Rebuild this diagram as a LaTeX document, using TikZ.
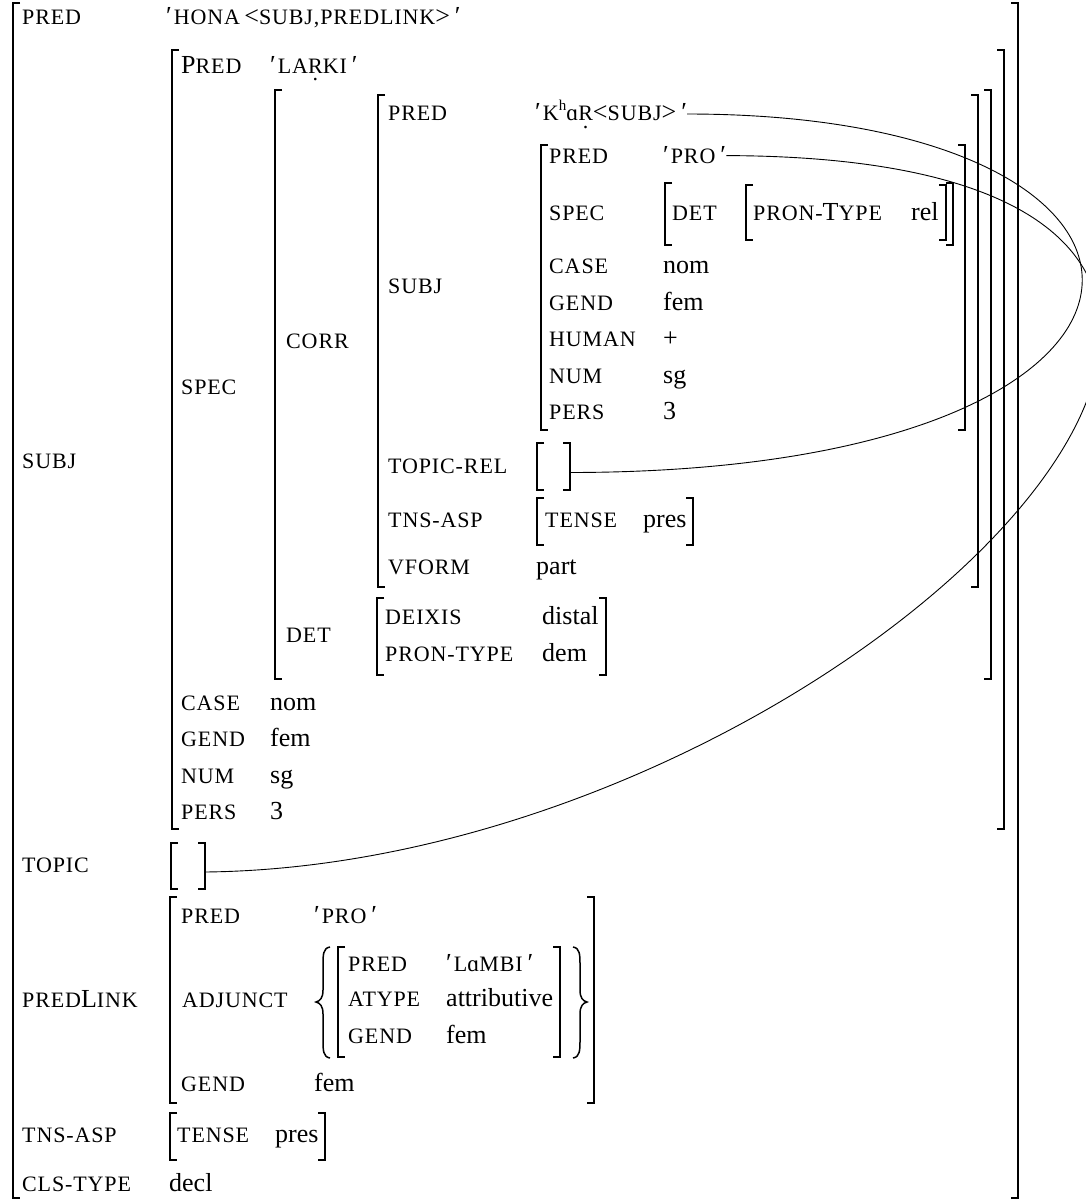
\documentclass[tikz,border=0pt]{standalone}
\usepackage{fontspec}
\setmainfont{Liberation Serif}
\newfontfamily\scf[LetterSpace=4]{Liberation Serif}
\newcommand\lb[1]{{\scf\fontsize{22}{24}\selectfont #1}}
\newcommand\bigc[1]{{\scf\fontsize{26}{28}\selectfont #1}}
\newcommand\udot[1]{\ooalign{#1\cr\hidewidth\raisebox{-0.32em}{.}\hidewidth\cr}}
\newcommand\pro{′\hspace{2pt}}
\newcommand\prc{\hspace{5pt}′}
\newcommand\alf{{\fontsize{23}{23}\selectfont ɑ}}
\newcommand\avm[4]{%
 \draw[brk] (#1+7,#2) -- (#1,#2) -- (#1,#4) -- (#1+7,#4);
 \draw[brk] (#3-7,#2) -- (#3,#2) -- (#3,#4) -- (#3-7,#4);}
\begin{document}
\begin{tikzpicture}[x=1pt,y=-1pt,
 lab/.style={anchor=base west,inner sep=0pt,font=\scf\fontsize{22}{24}\selectfont},
 val/.style={anchor=base west,inner sep=0pt,font=\fontsize{26}{28}\selectfont},
 brk/.style={line width=1.3pt},
 link/.style={line width=0.9pt},
 emptybox/.style={inner sep=0pt,minimum width=34pt,minimum height=46pt}]
\useasboundingbox (0,0) rectangle (1085,1201);

% ---------- outer f-structure
\avm{13}{3}{1018}{1198}
\node[lab] (aPred) at (22,25) {PRED};
\node[val] (aPredV) at (166,25) {\pro\lb{HONA}\,<\lb{SUBJ,PREDLINK}>\prc};
\node[lab] (aSubj) at (22,468.5) {SUBJ};
\node[lab] (aTopic) at (22,872) {TOPIC};
\node[emptybox] (aTopicV) at (188,866) {};
\avm{171}{843}{205}{889}
\node[lab] (aPlink) at (22,1007.5) {PRED\bigc{L}INK};
\node[lab] (aTns) at (22,1142.5) {TNS-ASP};
\avm{170}{1113}{325}{1160}
\node[lab] (aTense) at (177,1142.5) {TENSE};
\node[val] (aPres) at (275,1142.5) {pres};
\node[lab] (aCls) at (22,1191.5) {CLS-TYPE};
\node[val] (aDecl) at (169,1191.5) {decl};

% ---------- SUBJ
\avm{172}{50}{1004}{829}
\node[lab] (bPred) at (181,73.5) {\bigc{P}RED};
\node[val] (bPredV) at (270,73.5) {\pro\lb{LA\udot{R}KI}\prc};
\node[lab] (bSpec) at (181,394.5) {SPEC};
\node[lab] (bCase) at (181,710.5) {CASE};
\node[val] (bCaseV) at (270,710.5) {nom};
\node[lab] (bGend) at (181,746.5) {GEND};
\node[val] (bGendV) at (270,746.5) {fem};
\node[lab] (bNum) at (181,783.5) {NUM};
\node[val] (bNumV) at (270,783.5) {sg};
\node[lab] (bPers) at (181,819.5) {PERS};
\node[val] (bPersV) at (270,819.5) {3};

% ---------- SPEC
\avm{275}{90}{991}{679}
\node[lab] (cCorr) at (286,348.5) {CORR};
\node[lab] (cDet) at (286,642.5) {DET};

% ---------- CORR
\avm{378}{95}{978}{587}
\node[lab] (dPred) at (388,121) {PRED};
\node[val] (dPredV) at (535,121) {\pro\lb{K}\raisebox{0.42em}{\fontsize{15}{15}\selectfont h}\alf\lb{\udot{R}}<\lb{SUBJ}>\prc};
\node[lab] (dSubj) at (388,293.5) {SUBJ};
\node[lab] (dTrel) at (388,473.5) {TOPIC-REL};
\node[emptybox,minimum width=33pt,minimum height=47pt] (dTrelV) at (553.5,466.5) {};
\avm{537}{443}{570}{490}
\node[lab] (dTns) at (388,527.5) {TNS-ASP};
\avm{537}{498}{693}{545}
\node[lab] (dTense) at (545,527.5) {TENSE};
\node[val] (dPres) at (643,527.5) {pres};
\node[lab] (dVform) at (388,574.5) {VFORM};
\node[val] (dVformV) at (536,574.5) {part};

% ---------- DET of SPEC
\avm{377}{598}{606}{675}
\node[lab] (fDeix) at (385,624.5) {DEIXIS};
\node[val] (fDeixV) at (542,624.5) {distal};
\node[lab] (fPron) at (385,661.5) {PRON-TYPE};
\node[val] (fPronV) at (542,661.5) {dem};

% ---------- inner SUBJ
\avm{541}{145}{965}{430}
\node[lab] (ePred) at (549,164) {PRED};
\node[val] (ePredV) at (663,164) {\pro\lb{PRO}\prc};
\node[lab] (eSpec) at (549,220.5) {SPEC};
\avm{665}{183}{953}{245}
\node[lab] (eDet) at (672,220.5) {DET};
\avm{746}{185}{946}{240}
\node[lab] (ePron) at (753,220.5) {PRON-\bigc{T}YPE};
\node[val] (ePronV) at (911,220.5) {rel};
\node[lab] (eCase) at (549,273.5) {CASE};
\node[val] (eCaseV) at (663,273.5) {nom};
\node[lab] (eGend) at (549,310.5) {GEND};
\node[val] (eGendV) at (663,310.5) {fem};
\node[lab] (eHum) at (549,346.5) {HUMAN};
\node[val] (eHumV) at (663,346.5) {+};
\node[lab] (eNum) at (549,383.5) {NUM};
\node[val] (eNumV) at (663,383.5) {sg};
\node[lab] (ePers) at (549,419.5) {PERS};
\node[val] (ePersV) at (663,419.5) {3};

% ---------- PREDLINK
\avm{170}{897}{594}{1103}
\node[lab] (gPred) at (181,923.5) {PRED};
\node[val] (gPredV) at (314,923.5) {\pro\lb{PRO}\prc};
\node[lab] (gAdj) at (182,1007.5) {ADJUNCT};
\draw[line width=1.5pt] (330,947) .. controls (323,948) and (323,955) .. (323,965) -- (323,990)
  .. controls (323,998) and (320,1001) .. (316,1002) .. controls (320,1003) and (323,1006) .. (323,1014)
  -- (323,1040) .. controls (323,1050) and (323,1057) .. (330,1058);
\draw[line width=1.5pt] (573,947) .. controls (580,948) and (580,955) .. (580,965) -- (580,990)
  .. controls (580,998) and (583,1001) .. (587,1002) .. controls (583,1003) and (580,1006) .. (580,1014)
  -- (580,1040) .. controls (580,1050) and (580,1057) .. (573,1058);
\avm{338}{947}{560}{1057}
\node[lab] (hPred) at (348,971.5) {PRED};
\node[val] (hPredV) at (446,971.5) {\pro\lb{L}\alf\lb{MBI}\prc};
\node[lab] (hAtype) at (348,1006.5) {ATYPE};
\node[val] (hAtypeV) at (446,1006.5) {attributive};
\node[lab] (hGend) at (348,1043) {GEND};
\node[val] (hGendV) at (446,1043) {fem};
\node[lab] (gGend) at (181,1091.5) {GEND};
\node[val] (gGendV) at (314,1091.5) {fem};

% ---------- structure-sharing links
\draw[link] (dPredV.east) .. controls (1232,114) and (1232,472) .. ([yshift=-6pt]dTrelV.east);
\draw[link] (ePredV.east) .. controls (1550,158) and (850,865) .. ([yshift=-6pt]aTopicV.east);
\end{tikzpicture}
\end{document}
